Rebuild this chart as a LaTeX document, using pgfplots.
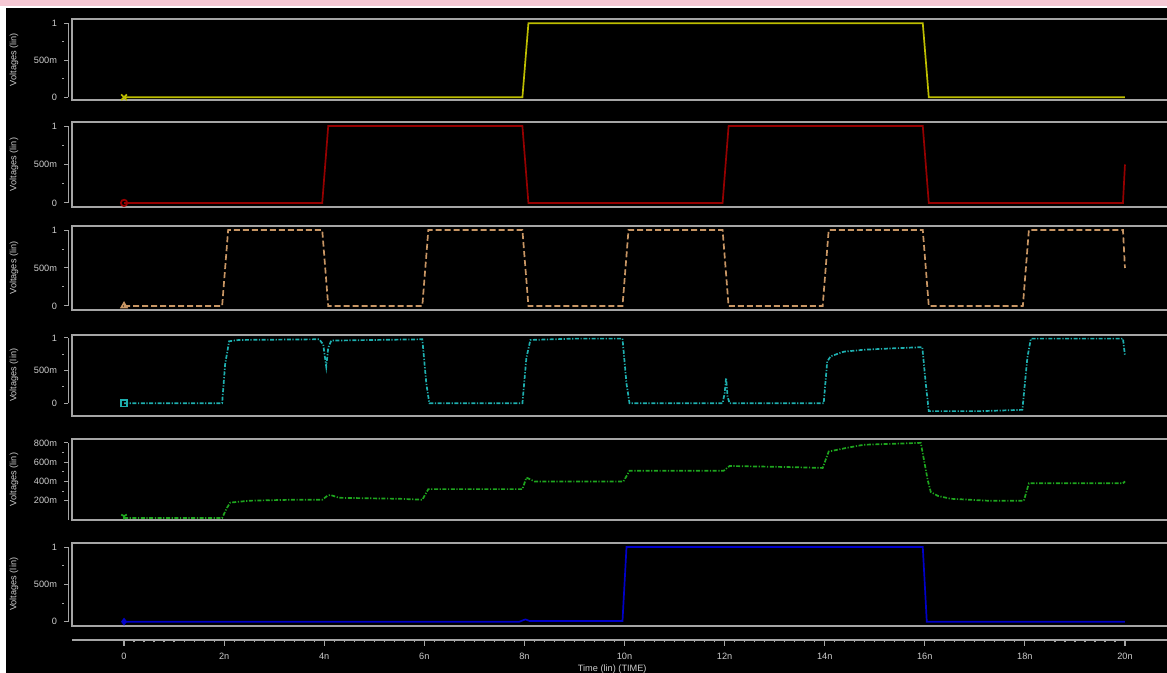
\documentclass[border=0pt]{standalone}
\usepackage{fontspec}
\setmainfont{Liberation Sans}
\usepackage{pgfplots}
\pgfplotsset{compat=1.18}
\usetikzlibrary{plotmarks}

\definecolor{bx}{RGB}{165,165,165}
\definecolor{txt}{RGB}{205,205,205}
\definecolor{cyel}{RGB}{190,190,0}
\definecolor{cred}{RGB}{150,0,0}
\definecolor{ctan}{RGB}{200,150,100}
\definecolor{cteal}{RGB}{30,175,175}
\definecolor{cgrn}{RGB}{30,165,30}
\definecolor{cblu}{RGB}{0,0,200}
\definecolor{pinkbar}{RGB}{245,200,212}

\newcommand{\tf}{\fontsize{4.6}{5}\selectfont}

\pgfplotsset{panel/.style={
  anchor=south west, scale only axis, width=549pt,
  xmin=-1.04, xmax=20.9,
  axis line style={bx, line width=1pt},
  xtick=\empty,
  ytick pos=left,
  tick align=outside, major tick length=2pt, minor tick length=1pt,
  ytick style={bx, line width=0.5pt, xshift=-2pt},
  minor y tick style={bx, line width=0.5pt, xshift=-2pt},
  minor y tick num=1,
  yticklabel style={font=\tf, text=txt, xshift=-2pt},
  ylabel={Voltages (lin)},
  ylabel style={font=\tf, text=txt, at={(axis description cs:-0.0528,0.5)}, anchor=center},
  clip mode=individual,
  every axis plot/.append style={line width=0.85pt},
}}

\begin{document}
\begin{tikzpicture}
\fill[black] (0,0) rectangle (583.5pt,336.5pt);
\fill[white] (0,0) rectangle (3pt,336.5pt);
\fill[white] (0,332.5pt) rectangle (583.5pt,336.5pt);
\fill[pinkbar] (0,333.5pt) rectangle (583.5pt,336.5pt);

% Panel 1
\begin{axis}[panel, at={(36pt,286.5pt)}, height=40.35pt, ymin=-0.036, ymax=1.054,
  ytick={0,0.5,1}, yticklabels={0,500m,1}]
\draw[bx, line width=0.5pt] ([xshift=-2pt]axis cs:-1.04,0) -- ([xshift=-2pt]axis cs:-1.04,1);
\addplot[cyel] coordinates {(0,0)(7.96,0)(8.08,1)(15.96,1)(16.08,0)(20,0)};
\addplot[cyel, only marks, mark=x, mark size=2pt] coordinates {(0,0)};
\end{axis}

% Panel 2
\begin{axis}[panel, at={(36pt,233pt)}, height=42.5pt, ymin=-0.053, ymax=1.053,
  ytick={0,0.5,1}, yticklabels={0,500m,1}]
\draw[bx, line width=0.5pt] ([xshift=-2pt]axis cs:-1.04,0) -- ([xshift=-2pt]axis cs:-1.04,1);
\addplot[cred] coordinates {(0,0)(3.96,0)(4.08,1)(7.96,1)(8.08,0)(11.96,0)(12.08,1)(15.96,1)(16.08,0)(19.96,0)(20,0.5)};
\addplot[cred, only marks, mark=o, mark size=1.6pt] coordinates {(0,0)};
\end{axis}

% Panel 3
\begin{axis}[panel, at={(36pt,181.5pt)}, height=42pt, ymin=-0.053, ymax=1.053,
  ytick={0,0.5,1}, yticklabels={0,500m,1}]
\draw[bx, line width=0.5pt] ([xshift=-2pt]axis cs:-1.04,0) -- ([xshift=-2pt]axis cs:-1.04,1);
\addplot[ctan, dash pattern=on 3pt off 1.5pt] coordinates {(0,0)(1.96,0)(2.08,1)(3.96,1)(4.08,0)(5.96,0)(6.08,1)(7.96,1)(8.08,0)(9.96,0)(10.08,1)(11.96,1)(12.08,0)(13.96,0)(14.08,1)(15.96,1)(16.08,0)(17.96,0)(18.08,1)(19.96,1)(20,0.5)};
\addplot[ctan, only marks, mark=triangle, mark size=1.6pt] coordinates {(0,0)};
\end{axis}

% Panel 4
\begin{axis}[panel, at={(36pt,128.65pt)}, height=40.35pt, ymin=-0.19, ymax=1.046,
  ytick={0,0.5,1}, yticklabels={0,500m,1}]
\draw[bx, line width=0.5pt] ([xshift=-2pt]axis cs:-1.04,0) -- ([xshift=-2pt]axis cs:-1.04,1);
\addplot[cteal, dash pattern=on 2pt off 0.8pt on 0.6pt off 0.8pt] coordinates {(0,0)(1.96,0)(2.02,0.6)(2.1,0.95)(2.3,0.97)(3.9,0.98)(3.98,0.9)(4.04,0.56)(4.08,0.85)(4.14,0.96)(5,0.97)(5.96,0.98)(6.04,0.3)(6.1,0)(7.96,0)(8.04,0.7)(8.12,0.97)(9,0.99)(9.96,0.99)(10.04,0.3)(10.1,0)(11.96,0)(12.0,0.15)(12.03,0.39)(12.06,0.1)(12.1,0)(13.98,0)(14.05,0.64)(14.12,0.72)(14.38,0.79)(14.78,0.82)(15.32,0.84)(15.95,0.86)(16.02,0.3)(16.08,-0.12)(17.12,-0.12)(17.95,-0.10)(18.05,0.7)(18.12,0.99)(19.96,0.99)(20,0.73)};
\addplot[cteal, only marks, mark=square, mark size=1.6pt] coordinates {(0,0)};
\end{axis}

% Panel 5
\begin{axis}[panel, at={(36pt,76.5pt)}, height=40.5pt, ymin=0, ymax=0.84,
  ytick={0.2,0.4,0.6,0.8}, yticklabels={200m,400m,600m,800m}]
\draw[bx, line width=0.5pt] ([xshift=-2pt]axis cs:-1.04,0) -- ([xshift=-2pt]axis cs:-1.04,0.8);
\addplot[cgrn, dash pattern=on 2pt off 0.8pt on 0.6pt off 0.8pt] coordinates {(0,0.02)(1.96,0.02)(2.05,0.12)(2.12,0.18)(2.5,0.2)(3.36,0.21)(3.96,0.21)(4.06,0.25)(4.12,0.26)(4.3,0.23)(5.5,0.22)(5.96,0.21)(6.08,0.32)(7.96,0.32)(8.04,0.44)(8.2,0.40)(9.98,0.40)(10.1,0.51)(11.98,0.51)(12.1,0.56)(13.18,0.55)(13.96,0.54)(14.08,0.71)(14.46,0.75)(14.78,0.78)(15.92,0.80)(16.06,0.41)(16.12,0.29)(16.26,0.25)(16.52,0.22)(17.26,0.20)(17.98,0.20)(18.08,0.38)(19.96,0.38)(20,0.40)};
\addplot[cgrn, only marks, mark=Mercedes star flipped, mark size=1.6pt] coordinates {(0,0.04)};
\end{axis}

% Panel 6
\begin{axis}[panel, at={(36pt,23.65pt)}, height=41.35pt, ymin=-0.054, ymax=1.054,
  ytick={0,0.5,1}, yticklabels={0,500m,1}]
\draw[bx, line width=0.5pt] ([xshift=-2pt]axis cs:-1.04,0) -- ([xshift=-2pt]axis cs:-1.04,1);
\addplot[cblu] coordinates {(0,0)(7.9,0)(8.02,0.03)(8.1,0.01)(9.96,0.01)(10.04,1)(15.96,1)(16.04,0)(20,0)};
\addplot[cblu, only marks, mark=diamond*, mark size=1.3pt] coordinates {(0,0)};
\end{axis}

% Time axis
\begin{axis}[at={(36pt,16.5pt)}, anchor=south west, scale only axis, width=549pt, height=1pt,
  xmin=-1.04, xmax=20.9, ymin=0, ymax=1,
  hide y axis, axis x line=bottom,
  x axis line style={-, bx, line width=1pt},
  xtick={0,2,4,6,8,10,12,14,16,18,20},
  xticklabels={0,2n,4n,6n,8n,10n,12n,14n,16n,18n,20n},
  minor x tick num=9,
  tick align=outside, major tick length=3pt, minor tick length=1.2pt,
  xtick style={bx, line width=0.6pt},
  minor x tick style={bx, line width=0.6pt},
  xticklabel style={font=\tf, text=txt},
  xlabel={Time (lin) (TIME)},
  xlabel style={font=\tf, text=txt, at={(axis description cs:0.492,0)}, anchor=north, yshift=-9pt}]
\addplot[draw=none] coordinates {(0,0.5)};
\end{axis}

\pgfresetboundingbox
\path (0,0) rectangle (583.5pt,336.5pt);
\end{tikzpicture}
\end{document}
